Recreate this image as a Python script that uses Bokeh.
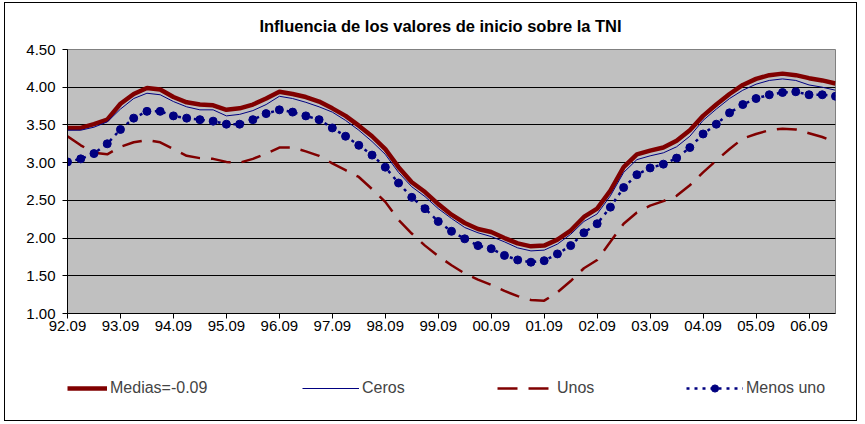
from bokeh.plotting import figure
from bokeh.layouts import column
from bokeh.models import Range1d, FixedTicker, Legend, LegendItem, PrintfTickFormatter, Label
from bokeh.embed import file_html
from bokeh.resources import INLINE

title_text = "Influencia de los valores de inicio sobre la TNI"

# quarterly observations, first one 92.09; labels shown every 4 quarters
tick_labels = ["92.09", "93.09", "94.09", "95.09", "96.09", "97.09", "98.09", "99.09",
               "00.09", "01.09", "02.09", "03.09", "04.09", "05.09", "06.09"]

medias = [3.46, 3.46, 3.51, 3.57, 3.78, 3.91, 3.99, 3.97, 3.87, 3.80,
          3.77, 3.76, 3.70, 3.72, 3.77, 3.85, 3.94, 3.91, 3.87, 3.81,
          3.72, 3.62, 3.49, 3.35, 3.18, 2.94, 2.74, 2.61, 2.45, 2.31,
          2.20, 2.12, 2.08, 2.00, 1.93, 1.89, 1.90, 1.98, 2.10, 2.28,
          2.39, 2.63, 2.94, 3.11, 3.16, 3.20, 3.29, 3.43, 3.62, 3.77,
          3.91, 4.03, 4.11, 4.16, 4.18, 4.16, 4.12, 4.09, 4.05]

ceros = [3.43, 3.43, 3.47, 3.54, 3.71, 3.85, 3.92, 3.90, 3.81, 3.74,
         3.70, 3.70, 3.62, 3.64, 3.69, 3.77, 3.88, 3.85, 3.80, 3.74,
         3.67, 3.56, 3.43, 3.28, 3.11, 2.87, 2.68, 2.55, 2.39, 2.26,
         2.14, 2.07, 2.02, 1.95, 1.87, 1.83, 1.84, 1.92, 2.05, 2.22,
         2.32, 2.56, 2.87, 3.04, 3.09, 3.13, 3.21, 3.35, 3.56, 3.71,
         3.85, 3.96, 4.04, 4.09, 4.11, 4.09, 4.03, 4.00, 3.96]

unos = [3.35, 3.23, 3.13, 3.11, 3.21, 3.27, 3.30, 3.27, 3.18, 3.09,
        3.06, 3.05, 3.01, 3.00, 3.05, 3.12, 3.20, 3.20, 3.15, 3.09,
        2.99, 2.90, 2.81, 2.65, 2.48, 2.24, 2.06, 1.90, 1.76, 1.64,
        1.53, 1.45, 1.38, 1.30, 1.23, 1.18, 1.17, 1.28, 1.43, 1.60,
        1.71, 1.95, 2.19, 2.34, 2.43, 2.49, 2.56, 2.70, 2.87, 3.03,
        3.18, 3.32, 3.38, 3.43, 3.45, 3.44, 3.39, 3.34, 3.27]

menos_uno = [3.01, 3.05, 3.12, 3.25, 3.44, 3.59, 3.68, 3.68, 3.62, 3.59,
             3.57, 3.55, 3.51, 3.51, 3.57, 3.65, 3.70, 3.67, 3.62, 3.57,
             3.46, 3.35, 3.23, 3.10, 2.94, 2.73, 2.54, 2.39, 2.22, 2.09,
             1.99, 1.90, 1.86, 1.77, 1.71, 1.68, 1.70, 1.79, 1.90, 2.07,
             2.19, 2.41, 2.67, 2.84, 2.93, 2.98, 3.06, 3.20, 3.38, 3.51,
             3.66, 3.77, 3.85, 3.90, 3.93, 3.94, 3.90, 3.90, 3.88]

series_names = ["Medias=-0.09", "Ceros", "Unos", "Menos uno"]
y_ticks = [1.0, 1.5, 2.0, 2.5, 3.0, 3.5, 4.0, 4.5]

x = list(range(len(medias)))
tick_pos = [4 * i for i in range(len(tick_labels))]

FONT = "Liberation Sans"
RED = "#800000"
NAVY = "#000080"
W = 851

# ---------------- title strip (frame aligned with the chart's frame) ----------------
tf = figure(width=W, height=36, output_backend="svg", toolbar_location=None,
            x_axis_type=None, y_axis_type=None, min_border=0,
            x_range=Range1d(0, 768), y_range=Range1d(0, 36))
tf.outline_line_color = None
tf.background_fill_color = None
tf.border_fill_color = "white"
tf.xgrid.grid_line_color = None
tf.ygrid.grid_line_color = None
tf.add_layout(Label(x=373, y=14, text=title_text, text_align="center",
                    text_baseline="middle", text_font=FONT, text_font_size="16.5px",
                    text_font_style="bold", text_color="black"))

# ---------------- main chart ----------------
p = figure(width=W, height=319, output_backend="svg", toolbar_location=None,
           x_range=Range1d(0, len(medias) - 1), y_range=Range1d(1.0, 4.5),
           min_border_left=62, min_border_right=21, min_border_top=10,
           min_border_bottom=45)

p.background_fill_color = "#C0C0C0"
p.border_fill_color = "white"
p.outline_line_color = "#808080"

p.xgrid.grid_line_color = None
p.ygrid.grid_line_color = "black"
p.ygrid.grid_line_width = 1
p.ygrid.ticker = FixedTicker(ticks=y_ticks)

p.yaxis.ticker = FixedTicker(ticks=y_ticks)
p.yaxis.formatter = PrintfTickFormatter(format="%.2f")
p.xaxis.ticker = FixedTicker(ticks=tick_pos)
p.xaxis.major_label_overrides = {pos: lab for pos, lab in zip(tick_pos, tick_labels)}

for ax in (p.xaxis[0], p.yaxis[0]):
    ax.axis_line_color = "black"
    ax.major_tick_line_color = "black"
    ax.major_tick_in = 0
    ax.major_tick_out = 5
    ax.minor_tick_line_color = None
    ax.major_label_text_font = FONT
    ax.major_label_text_font_size = "15px"
    ax.major_label_text_color = "black"
p.yaxis.major_label_standoff = 7
p.xaxis.major_label_standoff = 2

p.line(x, medias, line_color=RED, line_width=4.5)
p.line(x, ceros, line_color=NAVY, line_width=1)
p.line(x, unos, line_color=RED, line_width=2.5, line_dash="20 11")
p.line(x, menos_uno, line_color=NAVY, line_width=2.5, line_dash="3 5")
p.scatter(x, menos_uno, marker="circle", size=8, fill_color=NAVY, line_color=NAVY)

# ---------------- legend strip (frame aligned with the chart's frame) ----------------
lf = figure(width=W, height=62, output_backend="svg", toolbar_location=None,
            x_axis_type=None, y_axis_type=None, min_border=0,
            x_range=Range1d(0, 1), y_range=Range1d(0, 1))
lf.outline_line_color = None
lf.background_fill_color = None
lf.border_fill_color = "white"
lf.xgrid.grid_line_color = None
lf.ygrid.grid_line_color = None

nan = [float("nan")]
g_med = lf.line(nan, nan, line_color=RED, line_width=4.5)
g_cer = lf.line(nan, nan, line_color=NAVY, line_width=1)
g_uno = lf.line(nan, nan, line_color=RED, line_width=2.5, line_dash="20 11")
g_mu_l = lf.line(nan, nan, line_color=NAVY, line_width=2.5, line_dash="3 5")
g_mu_s = lf.scatter(nan, nan, marker="circle", size=8, fill_color=NAVY, line_color=NAVY)

entries = [
    (series_names[0], [g_med], 0, 40),
    (series_names[1], [g_cer], 235, 57),
    (series_names[2], [g_uno], 430, 57),
    (series_names[3], [g_mu_l, g_mu_s], 619, 57),
]
for label, rends, x0, gw in entries:
    lg = Legend(items=[LegendItem(label=label, renderers=rends)],
                orientation="horizontal", location=(x0, 23))
    lg.border_line_color = None
    lg.background_fill_alpha = 0
    lg.padding = 0
    lg.margin = 0
    lg.glyph_width = gw
    lg.glyph_height = 18
    lg.label_standoff = 3
    lg.label_text_font = FONT
    lg.label_text_font_size = "16px"
    lg.label_height = 18
    lf.add_layout(lg)

layout = column(tf, p, lf, spacing=0,
                styles={"border": "1px solid black", "margin-left": "4px", "margin-top": "2px"})

open("out.html", "w").write(file_html(layout, INLINE))
